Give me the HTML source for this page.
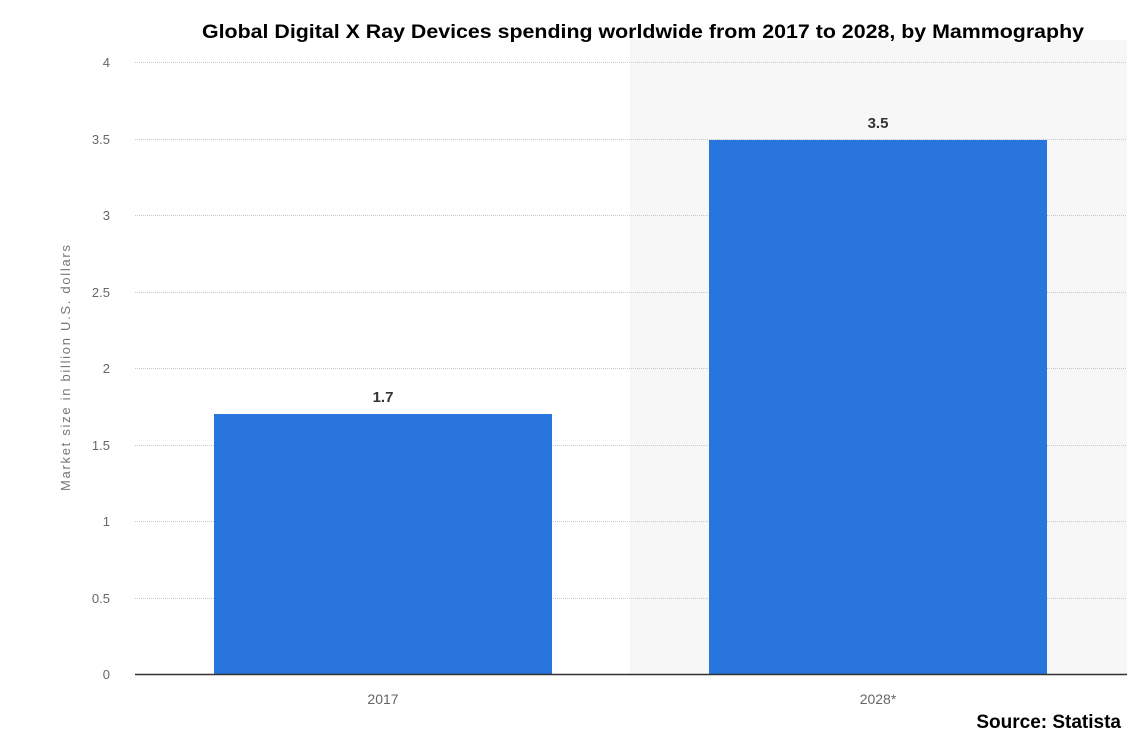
<!DOCTYPE html>
<html><head><style>body{margin:0;background:#fff}svg{display:block}</style></head>
<body>
<svg width="1148" height="746" xmlns="http://www.w3.org/2000/svg" font-family="Liberation Sans, sans-serif">
<rect x="0" y="0" width="1148" height="746" fill="#fff"/>
<rect x="630" y="40" width="497" height="634" fill="#f7f7f7"/>
<g stroke="#c8c8c8" stroke-width="1" stroke-dasharray="1,1">
<line x1="135" x2="1127" y1="62.5" y2="62.5"/>
<line x1="135" x2="1127" y1="139.5" y2="139.5"/>
<line x1="135" x2="1127" y1="215.5" y2="215.5"/>
<line x1="135" x2="1127" y1="292.5" y2="292.5"/>
<line x1="135" x2="1127" y1="368.5" y2="368.5"/>
<line x1="135" x2="1127" y1="445.5" y2="445.5"/>
<line x1="135" x2="1127" y1="521.5" y2="521.5"/>
<line x1="135" x2="1127" y1="598.5" y2="598.5"/>
</g>
<rect x="214" y="414" width="338" height="260" fill="#2876dd"/>
<rect x="709" y="140" width="338" height="534" fill="#2876dd"/>
<line x1="135" x2="1127" y1="674.5" y2="674.5" stroke="#333" stroke-width="1.5"/>
<g fill="#666" font-size="13" text-anchor="end">
<text x="110" y="67">4</text>
<text x="110" y="144">3.5</text>
<text x="110" y="220">3</text>
<text x="110" y="297">2.5</text>
<text x="110" y="373">2</text>
<text x="110" y="450">1.5</text>
<text x="110" y="526">1</text>
<text x="110" y="603">0.5</text>
<text x="110" y="679">0</text>
</g>
<g fill="#666" font-size="14" text-anchor="middle">
<text x="383" y="704">2017</text>
<text x="878" y="704">2028*</text>
</g>
<g fill="#333" font-size="15" font-weight="bold" text-anchor="middle">
<text x="383" y="402">1.7</text>
<text x="878" y="128">3.5</text>
</g>
<text transform="translate(70,368) rotate(-90)" fill="#777" font-size="13" text-anchor="middle" textLength="246" lengthAdjust="spacing">Market size in billion U.S. dollars</text>
<text x="643" y="38" fill="#000" font-size="19" font-weight="bold" text-anchor="middle" textLength="882" lengthAdjust="spacingAndGlyphs">Global Digital X Ray Devices spending worldwide from 2017 to 2028, by Mammography</text>
<text x="1121" y="728" fill="#000" font-size="19" font-weight="bold" text-anchor="end">Source: Statista</text>
</svg>
</body></html>
